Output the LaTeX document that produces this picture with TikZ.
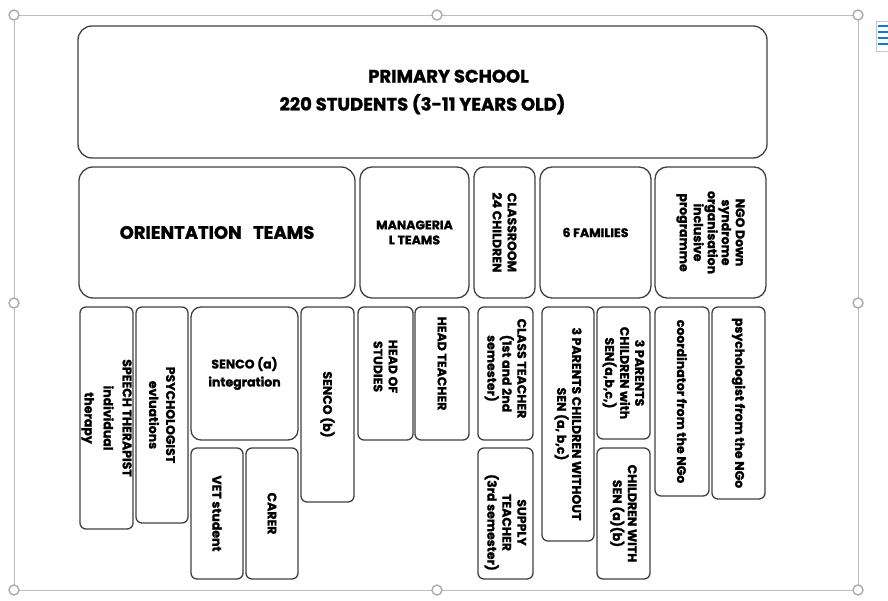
\documentclass[tikz,border=0pt]{standalone}
\usepackage{fontspec}
\setmainfont{Poppins}[BoldFeatures={FakeBold=1.3}]
\begin{document}
\begin{tikzpicture}[x=1pt,y=-1pt,
    handle/.style={circle,draw=gray!65,fill=white,line width=1.4pt,inner sep=0pt,minimum size=10pt},
    box/.style={draw=black!75,line width=1.3pt,rounded corners=6pt,inner sep=1pt,align=center,
      font=\fontsize{12.5}{15}\selectfont\bfseries},
    bigbox/.style={box,rounded corners=14pt,font=\fontsize{18}{28}\selectfont\bfseries},
    vbox/.style={box,rotate=-90}]
    \useasboundingbox (0,0) rectangle (888,601);

    \draw[gray!50,line width=0.9pt] (14,15) rectangle (858,590);
    \node[handle] (h-nw) at (14,15) {};
    \node[handle] (h-n) at (437,15) {};
    \node[handle] (h-ne) at (858,15) {};
    \node[handle] (h-w) at (14,303) {};
    \node[handle] (h-e) at (858,303) {};
    \node[handle] (h-sw) at (14,590) {};
    \node[handle] (h-s) at (437,590) {};
    \node[handle] (h-se) at (858,590) {};
    \node[draw=gray!45,fill=white,inner sep=0pt,minimum width=16pt,minimum height=30pt] (layout) at (884,36) {};
    \foreach \y in {26,32,38,44}
        \draw[cyan!60!blue,line width=1.6pt] (878,\y) -- (888,\y);

    \node[bigbox,minimum width=689,minimum height=132] (school) at (422.5,92) {\hspace*{52pt}PRIMARY SCHOOL\\220 STUDENTS (3-11 YEARS OLD)};

    \node[bigbox,minimum width=276,minimum height=131] (orient) at (217,232.5) {ORIENTATION\ \ \ TEAMS};
    \node[box,rounded corners=12pt,minimum width=109,minimum height=131] (manag) at (414.5,232.5) {MANAGERIA\\L TEAMS};
    \node[vbox,rounded corners=10pt,minimum width=131,minimum height=61] (classroom) at (504.5,232.5) {CLASSROOM\\24 CHILDREN};
    \node[box,rounded corners=12pt,minimum width=111,minimum height=131] (families) at (595.5,232.5) {6 FAMILIES};
    \node[vbox,rounded corners=12pt,minimum width=131,minimum height=111,
      font=\fontsize{12.5}{14}\selectfont\bfseries] (ngo) at (710.5,232.5) {NGO Down\\syndrome\\organisation\\inclusive\\programme};

    \node[vbox,minimum width=222,minimum height=53,font=\fontsize{12.5}{19}\selectfont\bfseries] (speech) at (106.5,418) {SPEECH THERAPIST\\individual\\therapy};
    \node[vbox,minimum width=216,minimum height=52,font=\fontsize{12.5}{17}\selectfont\bfseries] (psych) at (162,415) {PSYCHOLOGIST\\evluations};
    \node[box,rounded corners=10pt,minimum width=107,minimum height=133,font=\fontsize{12.5}{18}\selectfont\bfseries] (sencoa) at (244.5,373.5) {SENCO (a)\\integration};
    \node[vbox,minimum width=131,minimum height=52] (vet) at (217,513.5) {VET student};
    \node[vbox,minimum width=131,minimum height=52] (carer) at (272,513.5) {CARER};
    \node[vbox,minimum width=195,minimum height=53] (sencob) at (327.5,404.5) {SENCO (b)};

    \node[vbox,minimum width=133,minimum height=55] (studies) at (385.5,373.5) {HEAD OF\hspace*{14pt}\\STUDIES\hspace*{14pt}};
    \node[vbox,minimum width=133,minimum height=54] (headteacher) at (442,373.5) {HEAD TEACHER\hspace*{20pt}};
    \node[vbox,minimum width=133,minimum height=55] (classteacher) at (505.5,373.5) {CLASS TEACHER\hspace*{10pt}\\(1st and 2nd\hspace*{10pt}\\semester)\hspace*{10pt}};
    \node[vbox,minimum width=131,minimum height=55] (supply) at (505.5,513.5) {\hspace*{18pt}SUPPLY\\\hspace*{18pt}TEACHER\\\hspace*{18pt}(3rd semester)};

    \node[vbox,minimum width=234,minimum height=52] (without) at (568,424) {3 PARENTS CHILDREN WITHOUT\\SEN (a, b,c)};
    \node[vbox,minimum width=132,minimum height=53] (withsen) at (623.5,373) {3 PARENTS\\CHILDREN with\\SEN(a,b,c,)};
    \node[vbox,minimum width=131,minimum height=53] (children) at (623.5,513.5) {CHILDREN WITH\\SEN (a)(b)};
    \node[vbox,minimum width=189,minimum height=54] (coord) at (682,401.5) {coordinator from the NGo};
    \node[vbox,minimum width=192,minimum height=53] (ngopsych) at (738.5,403) {psychologist from the NGo};
\end{tikzpicture}
\end{document}
